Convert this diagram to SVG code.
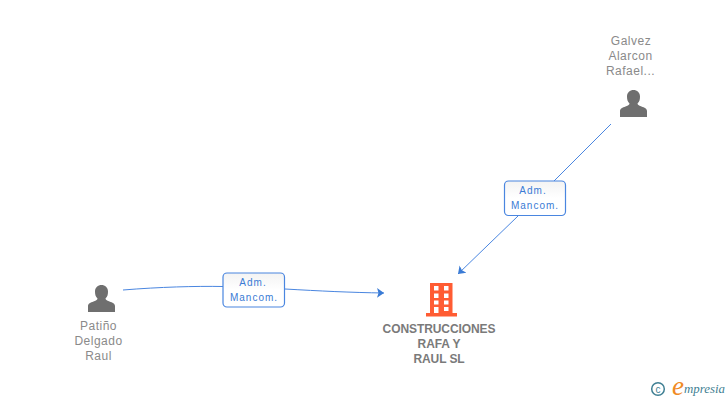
<svg xmlns="http://www.w3.org/2000/svg" width="728" height="400" viewBox="0 0 728 400">
<style>
.lbl{font-family:"Liberation Sans",Arial,sans-serif;font-size:12px;fill:#8a8a8a;text-anchor:middle;letter-spacing:.5px}
.co{font-family:"Liberation Sans",Arial,sans-serif;font-size:12px;font-weight:bold;fill:#7a7a7a;text-anchor:middle;letter-spacing:-.08px}
.edge{font-family:"Liberation Sans",Arial,sans-serif;font-size:10px;fill:#3a7bd5;text-anchor:middle;letter-spacing:1px}
.box{fill:url(#bg);stroke:#4a86e0;stroke-width:1.2}
.line{fill:none;stroke:#4a86e0;stroke-width:1}
.person{fill:#6f6f6f}
</style>
<defs>
<linearGradient id="bg" x1="0" y1="0" x2="0" y2="1"><stop offset="0" stop-color="#f3f3f3"/><stop offset=".5" stop-color="#fff"/><stop offset="1" stop-color="#fff"/></linearGradient>
<marker id="arr" markerUnits="userSpaceOnUse" markerWidth="10" markerHeight="12" refX="7" refY="6" orient="auto"><path d="M0 1L7 6L0 11L1.500 6Z" fill="#3a7bd5"/></marker>
<path id="p" d="M-13.500 13.500V7.500C-13.500 5-11 4-8 3C-5 2-4 1-4 0C-6-2-6.500-4-6.500-7C-6.500-11-3.500-13.500 0-13.500C3.500-13.500 6.500-11 6.500-7C6.500-4 6-2 4 0C4 1 5 2 8 3C11 4 13.500 5 13.500 7.500V13.500Z"/>
</defs>
<g id="connectors">
<path class="line" d="M123 290C160 287 195 286 223 286.500"/>
<path class="line" marker-end="url(#arr)" d="M285 289C320 291 350 292.500 384 293"/>
<path class="line" d="M611 124L552 183"/>
<path class="line" marker-end="url(#arr)" d="M518 216L458 274"/>
</g>
<g id="edge-label-1">
<rect class="box" x="223" y="273" width="61.500" height="34" rx="4"/>
<text class="edge" x="253" y="286">Adm.</text>
<text class="edge" x="254" y="301">Mancom.</text>
</g>
<g id="edge-label-2">
<rect class="box" x="504.500" y="181" width="61" height="34.500" rx="4"/>
<text class="edge" x="533" y="194">Adm.</text>
<text class="edge" x="535" y="209">Mancom.</text>
</g>
<g id="node-patino">
<use href="#p" class="person" x="101.500" y="298.500"/>
<text class="lbl" x="98.500" y="330">Patiño</text>
<text class="lbl" x="98.500" y="345">Delgado</text>
<text class="lbl" x="98.500" y="360">Raul</text>
</g>
<g id="node-galvez">
<use href="#p" class="person" x="633.500" y="103.500"/>
<text class="lbl" x="631" y="45">Galvez</text>
<text class="lbl" x="630.500" y="60">Alarcon</text>
<text class="lbl" x="630.500" y="75">Rafael...</text>
</g>
<g id="node-company">
<path fill="#ff5c33" fill-rule="evenodd" d="M430 283H452.500V313H457V316.500H426V313H430ZM434 286V290.500H438.500V286ZM444 286V290.500H448.500V286ZM434 293.500V298H438.500V293.500ZM444 293.500V298H448.500V293.500ZM434 300.500V304.500H438.500V300.500ZM444 300.500V304.500H448.500V300.500ZM434 307V313H438.500V307ZM444 307V311H448.500V307Z"/>
<text class="co" x="439" y="333">CONSTRUCCIONES</text>
<text class="co" x="439" y="348">RAFA Y</text>
<text class="co" x="439" y="363">RAUL SL</text>
</g>
<g id="brand">
<circle cx="658" cy="389" r="6.300" fill="none" stroke="#3f7f93" stroke-width="1.500"/>
<text x="658" y="392.500" font-family="Liberation Sans,sans-serif" font-size="10" fill="#3f7f93" text-anchor="middle">c</text>
<text x="678" y="395" font-family="Liberation Serif,serif" font-style="italic" font-size="27" fill="#f08a24" text-anchor="middle">e</text>
<text x="684" y="393" font-family="Liberation Serif,serif" font-style="italic" font-size="13.500" fill="#3f7f93" textLength="41" lengthAdjust="spacingAndGlyphs">mpresia</text>
</g>
</svg>
